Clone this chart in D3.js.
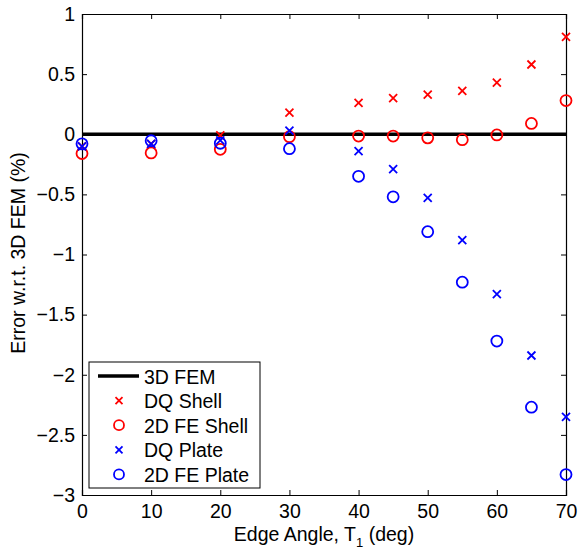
<!DOCTYPE html>
<html>
<head>
<meta charset="utf-8">
<script src="https://cdn.jsdelivr.net/npm/d3@7"></script>
<style>
  body { margin: 0; background: #fff; }
  text { font-family: "Liberation Sans", Arial, sans-serif; }
</style>
</head>
<body>
<div class="chart"></div>
<script>
// edge angle T1 (deg)
let angles = [0, 10, 20, 30, 40, 45, 50, 55, 60, 65, 70];
let dqShell = [-0.10, -0.08, -0.01, 0.18, 0.26, 0.30, 0.33, 0.36, 0.43, 0.58, 0.81];
let feShell = [-0.16, -0.155, -0.125, -0.02, -0.015, -0.015, -0.03, -0.045, -0.006, 0.09, 0.28];
let dqPlate = [-0.10, -0.08, -0.05, 0.03, -0.14, -0.29, -0.53, -0.88, -1.33, -1.84, -2.35];
let fePlate = [-0.08, -0.054, -0.075, -0.12, -0.35, -0.52, -0.81, -1.23, -1.72, -2.27, -2.83];
let refLine = [0, 0];

let xTicks = [0, 10, 20, 30, 40, 50, 60, 70];
let yTicks = [-3, -2.5, -2, -1.5, -1, -0.5, 0, 0.5, 1];

let series = [
  {name: '3D FEM', type: 'line', color: '#000', values: refLine},
  {name: 'DQ Shell', type: 'x', color: '#ff0000', values: dqShell},
  {name: '2D FE Shell', type: 'o', color: '#ff0000', values: feShell},
  {name: 'DQ Plate', type: 'x', color: '#0000ff', values: dqPlate},
  {name: '2D FE Plate', type: 'o', color: '#0000ff', values: fePlate}
];

let width = 579, height = 554;
let margin = {left: 82, right: 13, top: 14, bottom: 59};
let fontSize = 19.5;

let svg = d3.select('div.chart').append('svg')
  .attr('width', width).attr('height', height);

let x = d3.scaleLinear().domain([0, 70]).range([margin.left, width - margin.right]);
let y = d3.scaleLinear().domain([-3, 1]).range([height - margin.bottom, margin.top]);

let fmt = d => d < 0 ? '\u2212' + Math.abs(d) : String(d);

// axes with inward ticks on all sides
svg.append('g')
  .attr('transform', 'translate(0,' + y(-3) + ')')
  .call(d3.axisBottom(x).tickValues(xTicks).tickSize(-5).tickPadding(9).tickFormat(fmt));
svg.append('g')
  .attr('transform', 'translate(0,' + y(1) + ')')
  .call(d3.axisTop(x).tickValues(xTicks).tickSize(-5).tickFormat(''));
svg.append('g')
  .attr('transform', 'translate(' + x(0) + ',0)')
  .call(d3.axisLeft(y).tickValues(yTicks).tickSize(-5).tickPadding(7).tickFormat(fmt));
svg.append('g')
  .attr('transform', 'translate(' + x(70) + ',0)')
  .call(d3.axisRight(y).tickValues(yTicks).tickSize(-5).tickFormat(''));

svg.selectAll('.domain').attr('stroke', '#000').attr('stroke-width', 1.2);
svg.selectAll('.tick line').attr('stroke', '#000');
svg.selectAll('.tick text').attr('font-size', fontSize).attr('fill', '#000')
  .attr('font-family', '"Liberation Sans", Arial, sans-serif');

// reference line
svg.append('line')
  .attr('x1', x(0)).attr('x2', x(70))
  .attr('y1', y(refLine[0])).attr('y2', y(refLine[1]))
  .attr('stroke', '#000').attr('stroke-width', 3.5);

function drawMarker(g, type, color, cx, cy, small) {
  if (type === 'x') {
    let s = small ? 3.5 : 4;
    g.append('path')
      .attr('d', 'M' + (cx - s) + ',' + (cy - s) + 'L' + (cx + s) + ',' + (cy + s) +
                 'M' + (cx - s) + ',' + (cy + s) + 'L' + (cx + s) + ',' + (cy - s))
      .attr('stroke', color).attr('stroke-width', 1.8).attr('fill', 'none');
  } else if (type === 'o') {
    g.append('circle')
      .attr('cx', cx).attr('cy', cy).attr('r', small ? 5 : 5.5)
      .attr('stroke', color).attr('stroke-width', 1.8).attr('fill', 'none');
  }
}

let marks = svg.append('g');
series.filter(s => s.type !== 'line').forEach(function(s) {
  s.values.forEach(function(v, i) {
    drawMarker(marks, s.type, s.color, x(angles[i]), y(v), false);
  });
});

// y label
svg.append('text')
  .attr('transform', 'translate(25,253) rotate(-90)')
  .attr('text-anchor', 'middle')
  .attr('font-size', fontSize)
  .text('Error w.r.t. 3D FEM (%)');

// x label
let xl = svg.append('text')
  .attr('x', x(35)).attr('y', 541)
  .attr('text-anchor', 'middle')
  .attr('font-size', fontSize);
xl.append('tspan').text('Edge Angle, T');
xl.append('tspan').attr('font-size', 13).attr('dy', 6).text('1');
xl.append('tspan').attr('dy', -6).text(' (deg)');

// legend
let legend = svg.append('g');
legend.append('rect')
  .attr('x', 89).attr('y', 362).attr('width', 171).attr('height', 126)
  .attr('fill', '#fff').attr('stroke', '#000').attr('stroke-width', 1);

series.forEach(function(s, i) {
  let ly = 376 + i * 24.6;
  if (s.type === 'line') {
    legend.append('line')
      .attr('x1', 98).attr('x2', 139).attr('y1', ly).attr('y2', ly)
      .attr('stroke', s.color).attr('stroke-width', 3.5);
  } else {
    drawMarker(legend, s.type, s.color, 119, ly, true);
  }
  legend.append('text')
    .attr('x', 144).attr('y', ly + 7.5)
    .attr('font-size', fontSize)
    .text(s.name);
});
</script>
</body>
</html>
